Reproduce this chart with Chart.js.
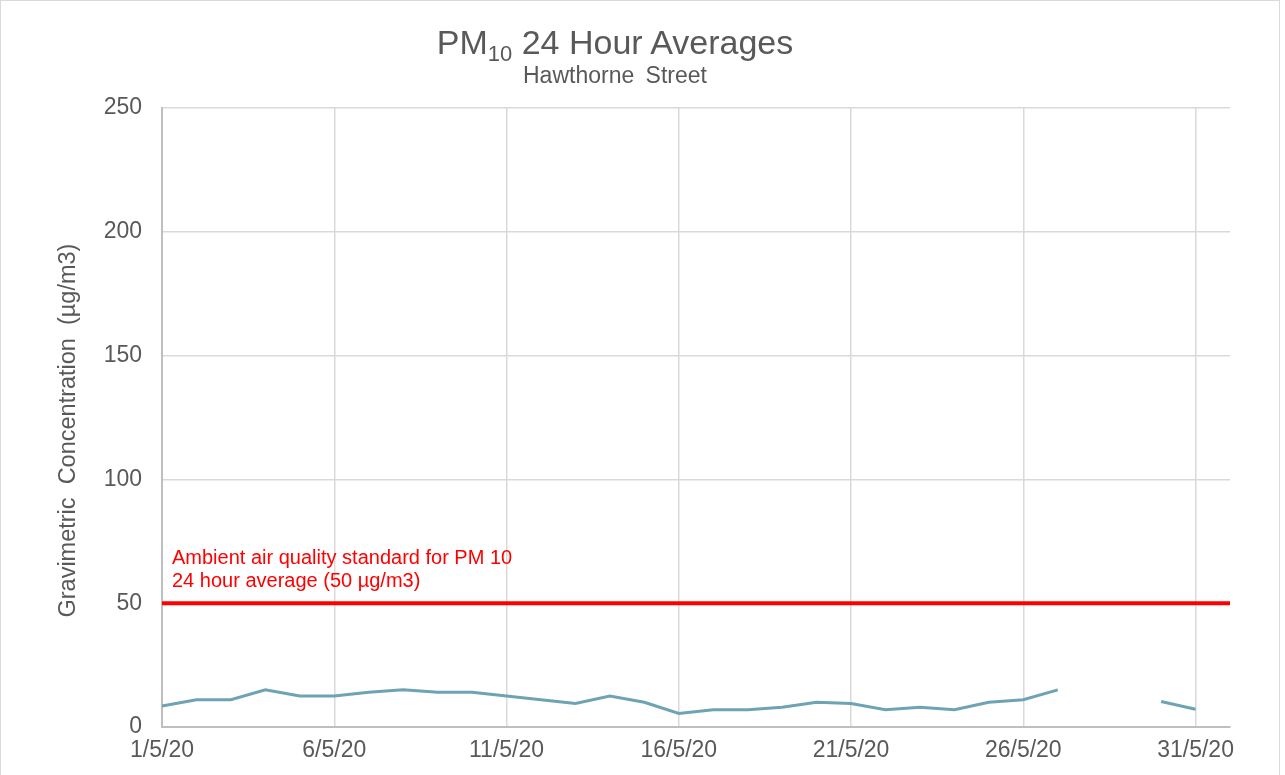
<!DOCTYPE html>
<html>
<head>
<meta charset="utf-8">
<script src="https://cdn.jsdelivr.net/npm/chart.js@4"></script>
<style>
  html, body { margin:0; padding:0; background:#fff; }
  #wrap { position:relative; width:1285px; height:775px; overflow:hidden; }
  #frame { position:absolute; left:0; top:0; width:1280px; height:800px; border:1px solid #d9d9d9; box-sizing:border-box; }
  #title { position:absolute; left:0; width:1230px; top:22px; text-align:center; font-family:"Liberation Sans", Arial, sans-serif; color:#595959; font-size:34px; line-height:40px; }
  #title sub { font-size:22px; vertical-align:-7px; line-height:0; }
  #subtitle { position:absolute; left:0; width:1230px; top:62px; text-align:center; font-family:"Liberation Sans", Arial, sans-serif; color:#595959; font-size:23px; word-spacing:5px; }
  canvas { position:absolute; left:0; top:0; }
</style>
</head>
<body>
<div id="wrap">
  <div id="frame"></div>
  <canvas id="chart" width="1285" height="775"></canvas>
  <div id="title">PM<sub>10</sub> 24 Hour Averages</div>
  <div id="subtitle">Hawthorne Street</div>
</div>
<script>
  // days of May 2020, plus 1/6/20 as the right edge of the axis
  const dates = ['1/5/20','2/5/20','3/5/20','4/5/20','5/5/20','6/5/20','7/5/20','8/5/20','9/5/20','10/5/20',
    '11/5/20','12/5/20','13/5/20','14/5/20','15/5/20','16/5/20','17/5/20','18/5/20','19/5/20','20/5/20',
    '21/5/20','22/5/20','23/5/20','24/5/20','25/5/20','26/5/20','27/5/20','28/5/20','29/5/20','30/5/20',
    '31/5/20','1/6/20'];
  const pm10 = [8.5, 11, 11, 15, 12.5, 12.5, 14, 15, 14, 14,
    12.5, 11, 9.5, 12.5, 10, 5.5, 7, 7, 8, 10,
    9.5, 7, 8, 7, 10, 11, 15, null, null, 10.3,
    7.2, null];
  const standardValue = 50;
  const standardEnds = ['1/5/20', '1/6/20'];
  const yTicks = [0, 50, 100, 150, 200, 250];
  const noteLines = ['Ambient air quality standard for PM 10', '24 hour average (50 µg/m3)'];

  const FONT = '"Liberation Sans", Arial, sans-serif';
  const GREY = '#595959';

  const notePlugin = {
    id: 'note',
    afterDatasetsDraw(chart){
      const {ctx, chartArea, scales} = chart;
      const y = scales.y.getPixelForValue(standardValue);
      ctx.save();
      ctx.fillStyle = '#ff0000';
      ctx.font = '20px ' + FONT;
      ctx.textBaseline = 'alphabetic';
      ctx.fillText(noteLines[0], chartArea.left + 10, y - 39);
      ctx.fillText(noteLines[1], chartArea.left + 10, y - 16);
      ctx.restore();
    }
  };

  new Chart(document.getElementById('chart'), {
    type: 'line',
    data: {
      labels: dates,
      datasets: [
        {
          data: pm10,
          borderColor: '#6ea3b4',
          borderWidth: 3,
          pointRadius: 0,
          spanGaps: false,
          tension: 0
        },
        {
          data: standardEnds.map(d => ({x: d, y: standardValue})),
          borderColor: '#ff0000',
          borderWidth: 4,
          pointRadius: 0,
          tension: 0
        }
      ]
    },
    options: {
      responsive: false,
      animation: false,
      layout: { padding: { top: 108, right: 55, left: 0, bottom: 0 } },
      plugins: { legend: { display: false }, tooltip: { enabled: false } },
      scales: {
        x: {
          type: 'category',
          offset: false,
          grid: {
            drawTicks: false,
            color: (c) => (c.index % 5 === 0 ? '#d9d9d9' : 'rgba(0,0,0,0)'),
            lineWidth: 1.5
          },
          border: { color: '#bfbfbf', width: 2 },
          ticks: {
            autoSkip: false,
            maxRotation: 0,
            minRotation: 0,
            padding: 10,
            color: GREY,
            font: { family: FONT, size: 23 },
            callback: function(v, i){ return i % 5 === 0 ? dates[i] : ''; }
          },
          afterFit: (s) => { s.height = 48; }
        },
        y: {
          min: 0,
          max: 250,
          afterBuildTicks: (s) => { s.ticks = yTicks.map(v => ({value: v})); },
          grid: { drawTicks: false, color: '#d9d9d9', lineWidth: 1.5 },
          border: { color: '#bfbfbf', width: 2 },
          ticks: {
            padding: 20,
            color: GREY,
            font: { family: FONT, size: 23 }
          },
          title: {
            display: true,
            text: 'Gravimetric  Concentration  (µg/m3)    ',
            color: GREY,
            font: { family: FONT, size: 23.5 },
            padding: { top: 54, bottom: 0 }
          },
          afterFit: (s) => { s.width = 162; }
        }
      }
    },
    plugins: [notePlugin]
  });
</script>
</body>
</html>
